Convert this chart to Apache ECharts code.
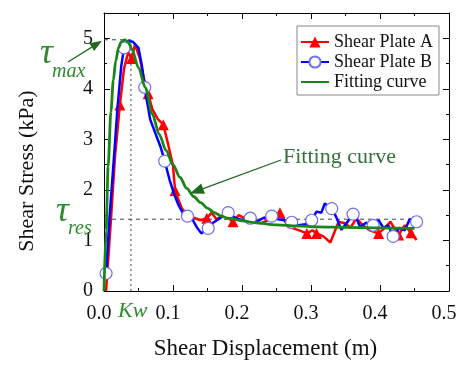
<!DOCTYPE html>
<html><head><meta charset="utf-8">
<script src="https://cdn.jsdelivr.net/npm/echarts@6/dist/echarts.min.js"></script>
<style>html,body{margin:0;padding:0;background:#fff}#c{width:465px;height:365px}</style>
</head><body><div id="c"></div>
<script>
// ---- data ----
const xTickLabels = ['0.0','0.1','0.2','0.3','0.4','0.5'];
const yTickLabels = ['0','1','2','3','4','5'];

const plateAX = [0.003,0.010,0.016,0.023,0.029,0.035,0.040,0.045,0.052,0.058,0.064,0.070,0.078,0.086,0.093,0.100,0.103,0.108,0.113,0.120,0.130,0.140,0.149,0.156,0.163,0.172,0.180,0.187,0.195,0.205,0.215,0.228,0.240,0.255,0.267,0.281,0.294,0.302,0.308,0.318,0.328,0.340,0.349,0.357,0.366,0.375,0.385,0.398,0.407,0.415,0.427,0.436,0.445,0.453];
const plateAY = [0,1.40,2.67,3.68,4.40,4.72,4.60,4.88,4.60,4.20,3.90,3.60,3.40,3.29,2.90,2.48,1.99,1.80,1.63,1.52,1.45,1.40,1.44,1.55,1.42,1.50,1.45,1.37,1.50,1.43,1.38,1.34,1.42,1.55,1.27,1.21,1.14,1.20,1.14,1.08,0.96,1.37,1.34,1.25,1.44,1.30,1.20,1.14,1.25,1.37,1.11,1.30,1.15,1.01];
const plateAMarkers = [3,6,10,13,16,22,27,33,36,38,47,50,52];

const plateBX = [0.003,0.008,0.0135,0.0197,0.025,0.029,0.035,0.042,0.050,0.055,0.059,0.063,0.067,0.075,0.082,0.088,0.095,0.102,0.108,0.114,0.121,0.128,0.135,0.141,0.151,0.158,0.168,0.180,0.190,0.200,0.212,0.222,0.232,0.243,0.252,0.262,0.272,0.282,0.292,0.301,0.308,0.315,0.320,0.330,0.337,0.344,0.352,0.361,0.367,0.371,0.380,0.390,0.398,0.405,0.412,0.419,0.428,0.436,0.443,0.453];
const plateBY = [0.35,1.45,2.47,3.65,4.45,4.81,4.94,4.93,4.81,4.45,4.03,3.70,3.39,3.10,2.85,2.57,2.20,1.90,1.70,1.55,1.48,1.42,1.25,1.14,1.24,1.35,1.44,1.55,1.45,1.40,1.44,1.38,1.45,1.48,1.42,1.40,1.36,1.30,1.32,1.40,1.57,1.55,1.73,1.63,1.45,1.21,1.35,1.52,1.40,1.27,1.35,1.30,1.40,1.25,1.30,1.08,1.25,1.20,1.42,1.37];
const plateBMarkers = [0,5,10,15,20,24,27,30,33,36,39,43,47,51,55,59];

const fitX = [0,0.003,0.006,0.010,0.0135,0.017,0.021,0.025,0.030,0.035,0.040,0.050,0.060,0.070,0.080,0.090,0.100,0.110,0.120,0.130,0.140,0.150,0.160,0.170,0.180,0.200,0.220,0.250,0.280,0.310,0.350,0.400,0.450];
const fitY = [0,1.20,2.47,3.55,4.17,4.55,4.81,4.93,4.97,4.93,4.80,4.42,4.02,3.50,3.10,2.78,2.50,2.25,2.03,1.87,1.75,1.64,1.55,1.48,1.44,1.39,1.35,1.31,1.29,1.27,1.26,1.25,1.24];

const tauMax = 4.97;
const tauRes = 1.42;
const kw = 0.039;
const resEndX = 0.45;
const fitArrowTip = [0.1246, 1.93];

// ---- chart ----
const pair = (xs, ys) => xs.map((x, i) => [x, ys[i]]);
const FONT = "'Liberation Serif','Times New Roman',serif";
const chart = echarts.init(document.getElementById('c'), null, {renderer: 'canvas'});
const setA = new Set(plateAMarkers), setB = new Set(plateBMarkers);

const axisCommon = {
  type: 'value', min: 0,
  axisLine: {show: true, onZero: false, lineStyle: {color: '#000', width: 1}},
  axisTick: {show: true, inside: true, length: 6, lineStyle: {color: '#000'}},
  minorTick: {show: true, splitNumber: 2, length: 3, lineStyle: {color: '#000'}},
  splitLine: {show: false}, minorSplitLine: {show: false}
};

const refStyle = {color: '#444', width: 1, type: [4, 4]};

const option = {
  animation: false,
  backgroundColor: '#fff',
  grid: {left: 104, right: 16, top: 13, bottom: 68},
  legend: {
    left: 297, top: 26, orient: 'vertical',
    data: ['Shear Plate A', 'Shear Plate B',
      {name: 'Fitting curve', itemStyle: {color: 'rgba(0,0,0,0)', borderColor: 'rgba(0,0,0,0)', borderWidth: 0}}],
    borderColor: '#888', borderWidth: 1, padding: [7, 6, 4, 3],
    itemGap: 2, itemWidth: 28, itemHeight: 14,
    textStyle: {fontFamily: FONT, fontSize: 18, color: '#111'}
  },
  xAxis: [
    Object.assign({}, axisCommon, {
      max: 0.5, interval: 0.1, position: 'bottom',
      name: 'Shear Displacement (m)', nameLocation: 'middle', nameGap: 46,
      nameTextStyle: {fontFamily: FONT, fontSize: 23, color: '#111', padding: [0, 22, 0, 0]},
      axisLabel: {fontFamily: FONT, fontSize: 20, color: '#111', margin: 13, padding: [0, 10, 0, 0],
        formatter: v => xTickLabels[Math.round(v * 10)]}
    }),
    Object.assign({}, axisCommon, {max: 0.5, interval: 0.1, position: 'top', axisLabel: {show: false}})
  ],
  yAxis: [
    Object.assign({}, axisCommon, {
      max: 5.5, interval: 1, position: 'left',
      name: 'Shear Stress (kPa)', nameLocation: 'middle', nameGap: 66,
      nameTextStyle: {fontFamily: FONT, fontSize: 22, color: '#111', padding: [0, 38, 0, 0]},
      axisLabel: {fontFamily: FONT, fontSize: 20, color: '#111', margin: 11,
        formatter: v => yTickLabels[Math.round(v)] || ''}
    }),
    Object.assign({}, axisCommon, {max: 5.5, interval: 1, position: 'right', axisLabel: {show: false}})
  ],
  series: [
    {
      name: 'tauMaxLine', type: 'line', data: [[0, tauMax], [kw, tauMax]],
      symbol: 'none', lineStyle: refStyle, silent: true, z: 1
    },
    {
      name: 'kwLine', type: 'line', data: [[kw, 0], [kw, tauMax]],
      symbol: 'none', lineStyle: {color: '#444', width: 1, type: [2, 3]}, silent: true, z: 1
    },
    {
      name: 'tauResLine', type: 'line', data: [[0, tauRes], [resEndX, tauRes]],
      symbol: 'none', lineStyle: refStyle, silent: true, z: 1
    },
    {
      name: 'Shear Plate A', type: 'line', data: pair(plateAX, plateAY),
      symbol: 'triangle',
      symbolSize: (v, p) => setA.has(p.dataIndex) ? 11 : 0,
      lineStyle: {color: '#ff0000', width: 2.5},
      itemStyle: {color: '#ff0000'}, z: 2
    },
    {
      name: 'Shear Plate B', type: 'line', data: pair(plateBX, plateBY),
      symbol: 'circle',
      symbolSize: (v, p) => setB.has(p.dataIndex) ? 12 : 0,
      lineStyle: {color: '#0000ff', width: 2.5},
      itemStyle: {color: '#ffffff', borderColor: '#6f6ff0', borderWidth: 1.2}, z: 3
    },
    {
      name: 'Fitting curve', type: 'line', data: pair(fitX, fitY),
      symbol: 'none', smooth: 0.3, smoothMonotone: 'x',
      lineStyle: {color: '#1a861a', width: 2.8},
      itemStyle: {color: '#1a861a'}, z: 4
    }
  ]
};
chart.setOption(option);

// ---- annotations ----
const G = '#2e8b2e';
const AR = '#1f6a1f';
function arrow(from, to, color, head, half) {
  const dx = to[0] - from[0], dy = to[1] - from[1];
  const L = Math.hypot(dx, dy), ux = dx / L, uy = dy / L;
  const bx = to[0] - ux * head, by = to[1] - uy * head;
  return [
    {type: 'line', shape: {x1: from[0], y1: from[1], x2: bx, y2: by}, style: {stroke: color, lineWidth: 1.3}, z: 100},
    {type: 'polygon', shape: {points: [[to[0], to[1]], [bx - uy * half, by + ux * half], [bx + uy * half, by - ux * half]]},
      style: {fill: color}, z: 100}
  ];
}
const pMax = chart.convertToPixel({xAxisIndex: 0, yAxisIndex: 0}, [0, tauMax]);
const pFit = chart.convertToPixel({xAxisIndex: 0, yAxisIndex: 0}, fitArrowTip);
const txt = (text, x, y, size, italic, color) => ({
  type: 'text', x: x, y: y, z: 100,
  style: {text: text, fill: color, font: (italic ? 'italic ' : '') + size + 'px ' + FONT,
    textAlign: 'left', textVerticalAlign: 'middle'}
});
const graphics = [
  txt('τ', 40, 54, 36, true, G),
  txt('max', 52, 72, 20, true, G),
  txt('τ', 56, 212, 36, true, G),
  txt('res', 68, 229, 20, true, G),
  txt('Kw', 118, 311, 22, true, G),
  txt('Fitting curve', 283, 157, 22, false, '#36703a'),
  ...arrow([68, 62], [pMax[0] - 2, pMax[1] + 1], AR, 12, 4.5),
  ...arrow([281, 160], [pFit[0], pFit[1]], AR, 14, 5.5)
];
chart.setOption({graphic: graphics});
</script>
</body></html>
